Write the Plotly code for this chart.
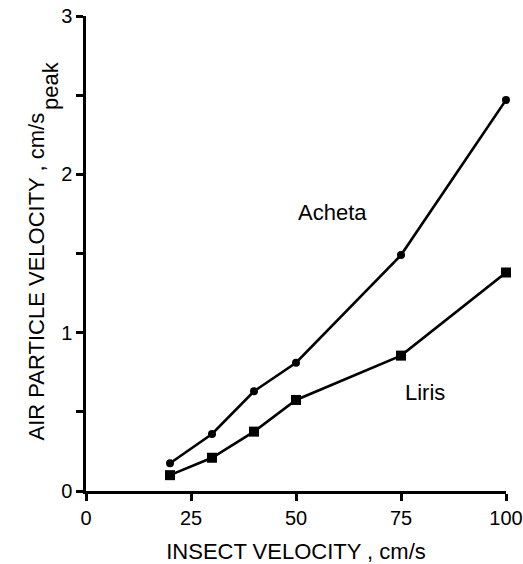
import plotly.graph_objects as go

# Data
insect_velocity = [20, 30, 40, 50, 75, 100]
acheta = [0.175, 0.36, 0.63, 0.81, 1.49, 2.47]
liris = [0.10, 0.21, 0.375, 0.575, 0.855, 1.38]

x_tickvals = [0, 25, 50, 75, 100]
x_ticktext = ["0", "25", "50", "75", "100"]
y_tickvals = [0, 1, 2, 3]
y_ticktext = ["0", "1", "2", "3"]

FONT = "Liberation Sans, Arial, sans-serif"

fig = go.Figure()
fig.add_trace(go.Scatter(
    x=insect_velocity, y=acheta, mode="lines+markers",
    line=dict(color="black", width=2.6),
    marker=dict(symbol="circle", size=8, color="black"),
    name="Acheta", showlegend=False, cliponaxis=False,
))
fig.add_trace(go.Scatter(
    x=insect_velocity, y=liris, mode="lines+markers",
    line=dict(color="black", width=2.6),
    marker=dict(symbol="square", size=10, color="black"),
    name="Liris", showlegend=False, cliponaxis=False,
))

fig.add_annotation(x=58.8, y=1.756, text="Acheta", showarrow=False,
                   font=dict(family=FONT, size=22, color="black"))
fig.add_annotation(x=80.6, y=0.62, text="Liris", showarrow=False,
                   font=dict(family=FONT, size=22, color="black"))

# y-axis title with a full-size, offset "peak" subscript
fig.add_annotation(xref="paper", yref="paper", x=-0.1167, y=0.4516,
                   xanchor="center", yanchor="middle",
                   text="AIR PARTICLE VELOCITY , cm/s", textangle=-90,
                   showarrow=False, font=dict(family=FONT, size=22, color="black"))
fig.add_annotation(xref="paper", yref="paper", x=-0.0857, y=0.8526,
                   xanchor="center", yanchor="middle",
                   text="peak", textangle=-90,
                   showarrow=False, font=dict(family=FONT, size=22, color="black"))

axis_common = dict(
    showgrid=False, zeroline=False, automargin=False,
    showline=True, linecolor="black", linewidth=2.5,
    ticks="outside", ticklen=7, tickwidth=2.5, tickcolor="black",
    tickfont=dict(family=FONT, size=20),
)

fig.update_layout(
    width=523, height=564,
    margin=dict(l=86, r=17, t=16, b=73, autoexpand=False),
    paper_bgcolor="white", plot_bgcolor="white",
    font=dict(family=FONT, color="black"),
    xaxis=dict(
        range=[0, 100], tickvals=x_tickvals, ticktext=x_ticktext,
        title=dict(text="INSECT VELOCITY , cm/s", font=dict(family=FONT, size=22), standoff=18),
        **axis_common,
    ),
    yaxis=dict(
        range=[0, 3], tickvals=y_tickvals, ticktext=y_ticktext,
        minor=dict(ticks="outside", ticklen=7, tickwidth=2.5, tickcolor="black",
                   dtick=0.5, showgrid=False),
        **axis_common,
    ),
)

fig.write_html("out.html")
